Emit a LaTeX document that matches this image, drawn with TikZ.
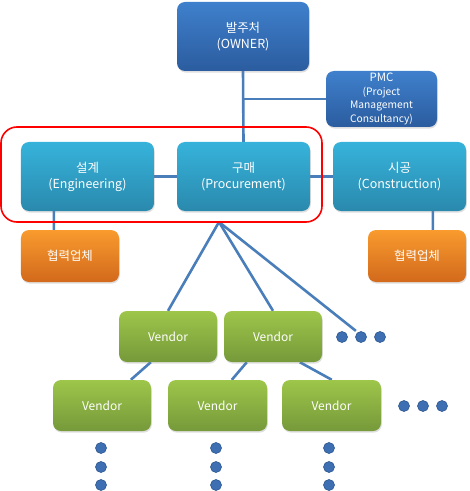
\documentclass[tikz,border=0pt]{standalone}
\usepackage{fontspec}
\setmainfont{Noto Sans CJK KR}
\usetikzlibrary{shadows,calc,backgrounds}
\definecolor{lnc}{HTML}{4A7EBB}
\definecolor{blT}{HTML}{3F80CC}
\definecolor{blB}{HTML}{2B5C9F}
\definecolor{tlT}{HTML}{36B3DB}
\definecolor{tlB}{HTML}{2A89AD}
\definecolor{orT}{HTML}{F99B2E}
\definecolor{orB}{HTML}{D2691C}
\definecolor{grT}{HTML}{9DC64A}
\definecolor{grB}{HTML}{76993A}
\definecolor{dotF}{HTML}{3F6FB3}
\definecolor{dotD}{HTML}{2E5890}
\tikzset{
  box/.style={rectangle, rounded corners=8bp, text=white, align=center, inner sep=0pt,
    font=\fontsize{12.5}{16}\selectfont,
    drop shadow={opacity=0.25, shadow xshift=0.8bp, shadow yshift=-1.6bp}},
  ownerbox/.style={box, top color=blT, bottom color=blB},
  engbox/.style={box, top color=tlT, bottom color=tlB},
  subbox/.style={box, top color=orT, bottom color=orB},
  vendbox/.style={box, top color=grT, bottom color=grB, font=\fontsize{12}{15}\selectfont},
  conn/.style={draw=lnc, line width=2.6bp},
  dotnode/.style={circle, fill=dotF, draw=dotD, line width=0.6bp, minimum size=11bp, inner sep=0pt},
  frame/.style={draw=red, line width=1.6bp, rounded corners=16bp, rectangle}
}
\begin{document}
\begin{tikzpicture}[x=1bp,y=-1bp]
\useasboundingbox (0,0) rectangle (470,491);
% frame
\node[frame, minimum width=321bp, minimum height=95bp] (fr) at (161.5,174.5) {};
% main boxes
\node[ownerbox, minimum width=132bp, minimum height=69bp] (owner) at (243,36.5) {발주처\\(OWNER)};
\node[ownerbox, minimum width=111bp, minimum height=56bp, font=\fontsize{10.3}{13.6}\selectfont] (pmc) at (381.5,99) {\fontsize{11.5}{13.6}\selectfont PMC\\(Project\\Management\\Consultancy)};
\node[engbox, minimum width=133bp, minimum height=69bp] (eng) at (87.5,176.5) {설계\\(Engineering)};
\node[engbox, minimum width=133bp, minimum height=69bp] (proc) at (243.5,176.5) {구매\\(Procurement)};
\node[engbox, minimum width=133bp, minimum height=69bp] (cons) at (399.5,176.5) {시공\\(Construction)};
\node[subbox, minimum width=98bp, minimum height=52bp] (sub1) at (70,256) {협력업체};
\node[subbox, minimum width=98bp, minimum height=52bp] (sub2) at (417,256) {협력업체};
\node[vendbox, minimum width=98bp, minimum height=51bp] (v1) at (168,336.5) {Vendor};
\node[vendbox, minimum width=98bp, minimum height=51bp] (v2) at (273,336.5) {Vendor};
\node[vendbox, minimum width=98bp, minimum height=51bp] (v3) at (102,405.5) {Vendor};
\node[vendbox, minimum width=99bp, minimum height=51bp] (v4) at (217.5,405.5) {Vendor};
\node[vendbox, minimum width=99bp, minimum height=51bp] (v5) at (331.5,405.5) {Vendor};
% dots
\node[dotnode] (d1) at (342,337) {};
\node[dotnode] (d2) at (361,337) {};
\node[dotnode] (d3) at (380,337) {};
\node[dotnode] (e1) at (404,406) {};
\node[dotnode] (e2) at (423,406) {};
\node[dotnode] (e3) at (442,406) {};
\node[dotnode] (a1) at (101,448) {};
\node[dotnode] (a2) at (101,467) {};
\node[dotnode] (a3) at (101,485) {};
\node[dotnode] (b1) at (216,448) {};
\node[dotnode] (b2) at (216,467) {};
\node[dotnode] (b3) at (216,485) {};
\node[dotnode] (c1) at (329,448) {};
\node[dotnode] (c2) at (329,467) {};
\node[dotnode] (c3) at (329,485) {};
% connectors
\coordinate (j1) at (243,99);
\coordinate (fo) at (219,222);
\begin{scope}[on background layer]
\draw[conn] (owner.south) -- (proc.north);
\draw[conn] (j1) -- (pmc.west);
\draw[conn] (eng.east) -- (proc.west);
\draw[conn] (proc.east) -- (cons.west);
\draw[conn] ($(eng.south west)+(33,0)$) -- ($(sub1.north west)+(33,0)$);
\draw[conn] ($(cons.south west)+(100,0)$) -- ($(sub2.north west)+(65,0)$);
\draw[conn] (fo) -- (v1.north);
\draw[conn] (fo) -- (v2.north);
\draw[conn] (fo) -- ($(d2.north west)+(-1,-2)$);
\draw[conn] ($(v1.south west)+(32,0)$) -- ($(v3.north west)+(78,0)$);
\draw[conn] ($(v2.south west)+(23,0)$) -- ($(v4.north west)+(64,0)$);
\draw[conn] ($(v2.south west)+(76,0)$) -- ($(v5.north west)+(50,0)$);
\end{scope}
\end{tikzpicture}
\end{document}
